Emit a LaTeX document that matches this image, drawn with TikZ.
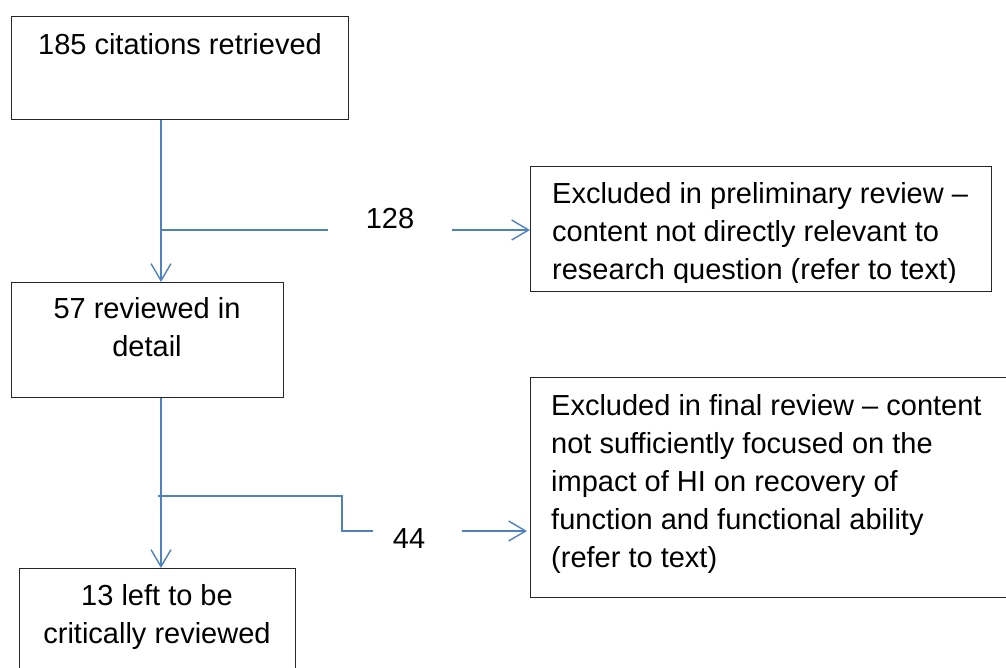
\documentclass[tikz,border=0pt]{standalone}
\usepackage{fontspec}
\setmainfont{Liberation Sans}
\usetikzlibrary{arrows.meta}

\definecolor{flowblue}{HTML}{4F81BD}

\tikzset{
	box/.style = {draw = black!85, line width = 0.9pt, inner sep = 0pt, anchor = north west},
	boxtext/.style = {inner sep = 0pt, font = \fontsize{29}{38}\selectfont},
	flow/.style = {draw = flowblue, line width = 1.4pt}
}

\begin{document}

\begin{tikzpicture}[x = 1pt, y = -1pt, > = {Straight Barb[length = 17pt, width = 20pt]}]

	\useasboundingbox (0, 0) rectangle (1006, 668);

	% Boxes

	\node [box, minimum width = 337pt, minimum height = 103pt] (citations) at (11, 16) {};
	\node [box, minimum width = 272pt, minimum height = 115pt] (detail) at (11, 282) {};
	\node [box, minimum width = 276pt, minimum height = 120pt] (remaining) at (19, 568) {};
	\node [box, minimum width = 461pt, minimum height = 125pt] (prelim) at (530, 166) {};
	\node [box, minimum width = 500pt, minimum height = 220pt] (final) at (530, 377) {};

	% Box texts

	\node [boxtext, anchor = base] (citationstext) at (180, 55) {185 citations retrieved};
	\node [boxtext, anchor = north, align = center] (detailtext) at (147, 297) {57 reviewed in\\detail};
	\node [boxtext, anchor = north, align = center] (remainingtext) at (157, 584) {13 left to be\\critically reviewed};

	\begin{scope}
		\clip (prelim.north west) rectangle ([yshift = 9.5pt] prelim.south east);
		\node [boxtext, anchor = north west, align = left] (prelimtext) at (552, 182)
			{Excluded in preliminary review --\\content not directly relevant to\\research question (refer to text)};
	\end{scope}

	\node [boxtext, anchor = north west, align = left] (finaltext) at (551, 394)
		{Excluded in final review -- content\\not sufficiently focused on the\\impact of HI on recovery of\\function and functional ability\\(refer to text)};

	% Counts

	\node [boxtext, anchor = base] (excl128) at (390, 229) {128};
	\node [boxtext, anchor = base] (excl44) at (409, 548) {44};

	% Flow lines

	\coordinate (spine) at (161, 0);
	\coordinate (fork128) at (161, 230);
	\coordinate (stub128) at (328, 230);
	\coordinate (start128) at (452, 230);
	\coordinate (fork44) at (158, 496);
	\coordinate (bend44) at (342, 496);
	\coordinate (stub44) at (373, 531);
	\coordinate (start44) at (462, 531);

	\begin{scope}[flow]

		\draw [->] (citations.south -| spine) -- (detail.north -| spine);
		\draw (fork128) -- (stub128);
		\draw [->] (start128) -- (prelim.west |- start128);

		\draw [->] (detail.south -| spine) -- (remaining.north -| spine);
		\draw (fork44) -- (bend44) |- (stub44);
		\draw [->] (start44) -- ([xshift = -3pt] final.west |- start44);

	\end{scope}

\end{tikzpicture}

\end{document}
